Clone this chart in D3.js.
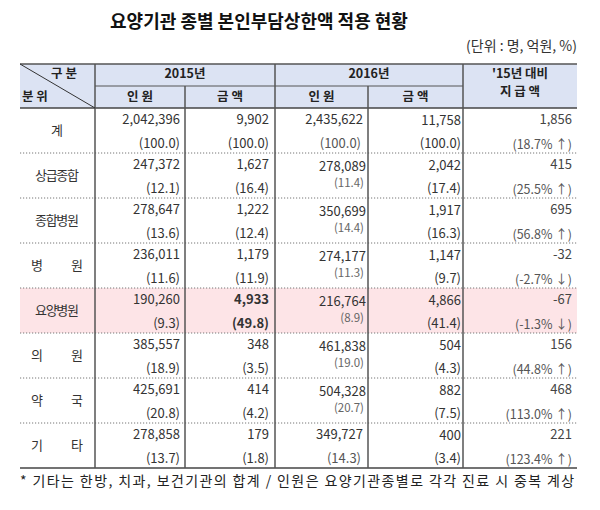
<!DOCTYPE html>
<html><head><meta charset="utf-8">
<script src="https://cdn.jsdelivr.net/npm/d3@7"></script>
<style>
body{margin:0;background:#fff;}
svg{display:block;font-family:"Noto Sans CJK KR","Noto Sans",sans-serif;}
</style></head>
<body><svg id="c" width="600" height="510"></svg>
<script>
const categories = ["계","상급종합","종합병원","병원","요양병원","의원","약국","기타"];
const people2015 = [2042396,247372,278647,236011,190260,385557,425691,278858];
const people2015Pct = [100.0,12.1,13.6,11.6,9.3,18.9,20.8,13.7];
const amount2015 = [9902,1627,1222,1179,4933,348,414,179];
const amount2015Pct = [100.0,16.4,12.4,11.9,49.8,3.5,4.2,1.8];
const people2016 = [2435622,278089,350699,274177,216764,461838,504328,349727];
const people2016Pct = [100.0,11.4,14.4,11.3,8.9,19.0,20.7,14.3];
const amount2016 = [11758,2042,1917,1147,4866,504,882,400];
const amount2016Pct = [100.0,17.4,16.3,9.7,41.4,4.3,7.5,3.4];
const diffAmount = [1856,415,695,-32,-67,156,468,221];
const diffPct = [18.7,25.5,56.8,-2.7,-1.3,44.8,113.0,123.4];
const highlightCategory = "요양병원";
const title = "요양기관 종별 본인부담상한액 적용 현황";
const unitNote = "(단위 : 명, 억원, %)";
const footnote = "* 기타는 한방, 치과, 보건기관의 합계 / 인원은 요양기관종별로 각각 진료 시 중복 계상";

const svg = d3.select("#c");
const L = 20, R = 577;
const colEdges = [20, 95, 185, 275, 368, 463, 577];
const headTop = 64, headMid = 86, headBot = 108, tableBot = 468;
const y = d3.scaleBand().domain(categories).range([headBot, tableBot]);
const loc = d3.formatLocale({decimal:".", thousands:",", grouping:[3], currency:["",""], minus:"-"});
const fmt = loc.format(",");
const f1 = loc.format(".1f");

// title & unit
svg.append("text").attr("x", 259).attr("y", 23).attr("text-anchor","middle")
  .attr("dominant-baseline","middle").attr("font-size",18).attr("font-weight","bold")
  .attr("fill","#111").text(title);
svg.append("text").attr("x", R).attr("y", 47).attr("text-anchor","end")
  .attr("dominant-baseline","middle").attr("font-size",14).attr("fill","#333").text(unitNote);

// header background
svg.append("rect").attr("x",L).attr("y",headTop).attr("width",R-L).attr("height",headBot-headTop)
  .attr("fill","#dce3f3");
// highlight row
svg.append("rect").attr("x",L).attr("y",y(highlightCategory)).attr("width",R-L)
  .attr("height",y.bandwidth()).attr("fill","#fde4e7");

// lines
const line = (x1,y1,x2,y2,c,w,d)=>svg.append("line").attr("x1",x1).attr("y1",y1).attr("x2",x2).attr("y2",y2)
  .attr("stroke",c).attr("stroke-width",w).attr("stroke-dasharray",d||null);
line(L,headTop,R,headTop,"#555",1.5);
line(colEdges[1],headMid,colEdges[5],headMid,"#555",1);
line(L,headBot,R,headBot,"#444",1.5);
line(L,tableBot,R,tableBot,"#444",1.5);
categories.slice(1).forEach(c=>line(L,y(c),R,y(c),"#777",1,"1.2,1.8"));
[1,3,5].forEach(i=>line(colEdges[i],headTop,colEdges[i],tableBot,"#555",1.5));
[2,4].forEach(i=>line(colEdges[i],headMid,colEdges[i],tableBot,"#555",1.5));
line(L,headTop,colEdges[1],headBot,"#333",1);

// header text
const ht = (x,yy,t,anchor,ls)=>svg.append("text").attr("x",x).attr("y",yy).attr("text-anchor",anchor||"middle")
  .attr("dominant-baseline","middle").attr("font-size",12.5).attr("font-weight","bold")
  .attr("fill","#222").attr("letter-spacing",ls||0).text(t);
ht(64,75,"구 분");
ht(22,98,"분 위","start");
ht((colEdges[1]+colEdges[3])/2,75,"2015년");
ht((colEdges[3]+colEdges[5])/2,75,"2016년");
ht((colEdges[1]+colEdges[2])/2,98,"인 원");
ht((colEdges[2]+colEdges[3])/2,98,"금 액");
ht((colEdges[3]+colEdges[4])/2,98,"인 원");
ht((colEdges[4]+colEdges[5])/2,98,"금 액");
ht((colEdges[5]+R)/2,75,"'15년  대비");
ht((colEdges[5]+R)/2,93,"지 급 액");

// row labels
const rows = svg.selectAll("g.row").data(categories).join("g").attr("class","row");
rows.append("text").attr("x",57).attr("y",c=>y(c)+y.bandwidth()/2+1)
  .attr("text-anchor","middle").attr("dominant-baseline","middle").attr("font-size",13)
  .attr("fill","#333")
  .each(function(c){
    const t=d3.select(this).text(c);
    if(c.length===2) t.attr("textLength",52).attr("lengthAdjust","spacing");
    else if(c.length===4) t.attr("textLength",44).attr("lengthAdjust","spacing");
  });

// cells
const cell = (x,yy,t,opts={})=>svg.append("text").attr("x",x).attr("y",yy).attr("text-anchor","end")
  .attr("dominant-baseline","middle").attr("font-size",opts.size||13)
  .attr("font-weight",opts.bold?"bold":null).attr("fill",opts.color||"#333").text(t);
categories.forEach((c,i)=>{
  const top=y(c), hl = c===highlightCategory;
  cell(180, top+12, fmt(people2015[i]));
  cell(180, top+36, "("+f1(people2015Pct[i])+")");
  cell(269, top+12, fmt(amount2015[i]), {bold:hl});
  cell(269, top+36, "("+f1(amount2015Pct[i])+")", {bold:hl});
  const compact = i>0 && i<categories.length-1;
  if(compact){
    cell(366, top+14, fmt(people2016[i]));
    cell(364, top+31, "("+f1(people2016Pct[i])+")", {size:11.5, color:"#666"});
  } else {
    cell(363, top+12, fmt(people2016[i]));
    cell(361, top+36, "("+f1(people2016Pct[i])+")", {color:"#555"});
  }
  cell(461, top+13, fmt(amount2016[i]));
  cell(461, top+36, "("+f1(amount2016Pct[i])+")");
  cell(572, top+12, fmt(diffAmount[i]), {color:"#444"});
  cell(572, top+38, "("+f1(diffPct[i])+"% "+(diffPct[i]>=0?"↑":"↓")+")", {color:"#555", size:12.5});
});

// footnote
svg.append("text").attr("x",L).attr("y",482).attr("dominant-baseline","middle")
  .attr("font-size",14).attr("letter-spacing",1.4).attr("fill","#222").text(footnote);
</script></body></html>
